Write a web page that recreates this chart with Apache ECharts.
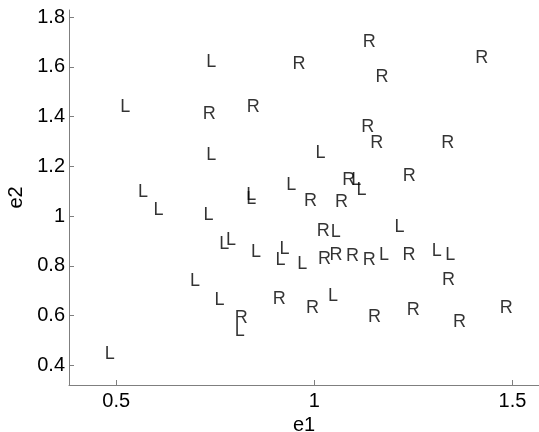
<!DOCTYPE html>
<html>
<head>
<meta charset="utf-8">
<script src="https://cdn.jsdelivr.net/npm/echarts@6/dist/echarts.min.js"></script>
<style>
  html, body { margin: 0; padding: 0; background: #fff; }
  #chart { width: 539px; height: 432px; }
</style>
</head>
<body>
<div id="chart"></div>
<script>
// Points labelled "L" as [e1, e2]
const pointsL = [
  [0.726, 1.619], [0.509, 1.440], [0.726, 1.244], [1.002, 1.254],
  [1.092, 1.147], [1.105, 1.107], [0.554, 1.097], [0.928, 1.127],
  [0.827, 1.083], [0.827, 1.070], [0.593, 1.026], [0.719, 1.003],
  [1.040, 0.935], [1.201, 0.955], [0.776, 0.904], [0.759, 0.889],
  [0.839, 0.857], [0.911, 0.869], [0.901, 0.822], [0.956, 0.808],
  [1.162, 0.845], [1.295, 0.859], [1.329, 0.845], [0.685, 0.740],
  [0.747, 0.663], [1.033, 0.680], [0.798, 0.537], [0.470, 0.445]
];
// Points labelled "R" as [e1, e2]
const pointsR = [
  [1.121, 1.702], [1.405, 1.637], [0.944, 1.611], [1.153, 1.559],
  [0.828, 1.440], [0.717, 1.410], [1.117, 1.360], [1.140, 1.296],
  [1.319, 1.296], [1.222, 1.162], [1.069, 1.146], [0.973, 1.062],
  [1.051, 1.057], [1.005, 0.942], [1.008, 0.827], [1.037, 0.844],
  [1.079, 0.841], [1.121, 0.824], [1.221, 0.844], [1.321, 0.743],
  [0.894, 0.666], [0.978, 0.629], [0.798, 0.590], [1.134, 0.596],
  [1.232, 0.623], [1.349, 0.576], [1.467, 0.629]
];
const xTicks = [0.5, 1, 1.5];
const yTicks = [0.4, 0.6, 0.8, 1, 1.2, 1.4, 1.6, 1.8];
const xRange = [0.381, 1.567];
const yRange = [0.321, 1.829];

const FONT = 'Liberation Sans, Arial, sans-serif';
const axisColor = '#7f7f7f';

function letterSeries(name, data) {
  return {
    name: name,
    type: 'scatter',
    data: data,
    symbol: 'circle',
    symbolSize: 1,
    itemStyle: { color: 'rgba(0,0,0,0)' },
    silent: true,
    label: {
      show: true,
      formatter: name,
      position: 'right',
      distance: 0,
      color: '#000',
      fontFamily: FONT,
      fontSize: 18,
      align: 'left',
      verticalAlign: 'middle'
    }
  };
}

const chart = echarts.init(document.getElementById('chart'), null, { renderer: 'canvas' });
chart.setOption({
  animation: false,
  backgroundColor: '#fff',
  grid: { left: 69, right: 0, top: 10, bottom: 47, containLabel: false, outerBoundsMode: 'none' },
  xAxis: {
    type: 'value',
    min: xRange[0], max: xRange[1],
    name: 'e1',
    nameLocation: 'middle',
    nameGap: 28,
    nameTextStyle: { color: '#000', fontFamily: FONT, fontSize: 20 },
    axisLine: { show: true, lineStyle: { color: axisColor, width: 1 } },
    axisTick: { show: true, inside: true, length: 5, customValues: xTicks, lineStyle: { color: axisColor } },
    axisLabel: { customValues: xTicks, color: '#000', fontFamily: FONT, fontSize: 20, margin: 6 },
    splitLine: { show: false }
  },
  yAxis: {
    type: 'value',
    min: yRange[0], max: yRange[1],
    name: 'e2',
    nameLocation: 'middle',
    nameGap: 35,
    nameRotate: 90,
    nameTextStyle: { color: '#000', fontFamily: FONT, fontSize: 20 },
    axisLine: { show: true, lineStyle: { color: axisColor, width: 1 } },
    axisTick: { show: true, inside: true, length: 5, customValues: yTicks, lineStyle: { color: axisColor } },
    axisLabel: { customValues: yTicks, color: '#000', fontFamily: FONT, fontSize: 20, margin: 4 },
    splitLine: { show: false }
  },
  series: [letterSeries('L', pointsL), letterSeries('R', pointsR)]
});
</script>
</body>
</html>
